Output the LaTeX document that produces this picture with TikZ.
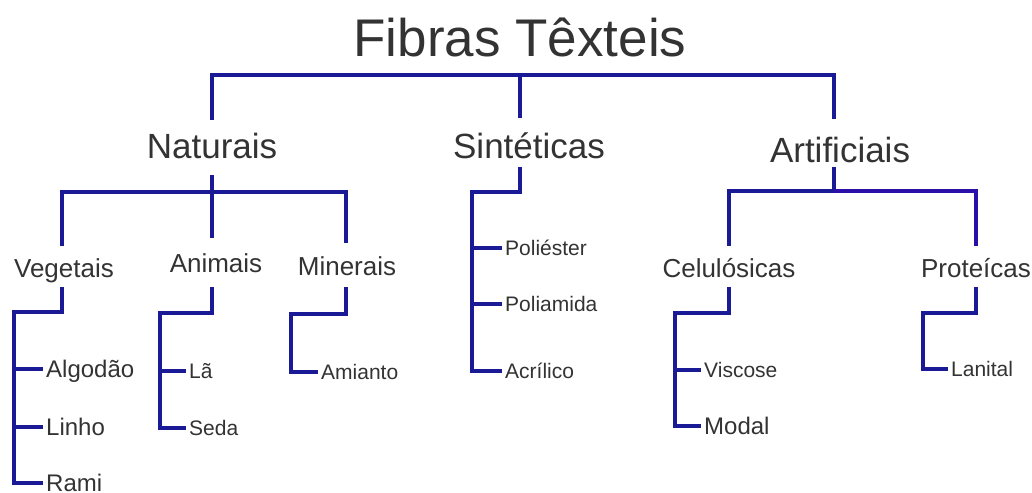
\documentclass[tikz,border=0pt]{standalone}
\usepackage{fontspec}
\setmainfont{Liberation Sans}
\usetikzlibrary{calc}
\definecolor{fiberblue}{RGB}{26,26,150}
\definecolor{fiberviolet}{RGB}{44,14,168}
\definecolor{labelgray}{HTML}{333333}

\begin{document}
\begin{tikzpicture}[x=1pt, y=-1pt,
  link/.style={fiberblue, line width=4pt},
  grp/.style={labelgray, anchor=base, inner sep=0pt, font=\fontsize{35}{35}\selectfont},
  sub/.style={labelgray, anchor=base, inner sep=0pt, font=\fontsize{26}{26}\selectfont},
  leaf/.style={labelgray, anchor=west, inner xsep=3pt, inner ysep=0pt, text height=15pt, text depth=0pt, font=\fontsize{21}{21}\selectfont},
  bigleaf/.style={leaf, text height=17pt, font=\fontsize{24}{24}\selectfont}]
  \useasboundingbox (0,0) rectangle (1032,492);
  \fill[white] (0,0) rectangle (1032,492);

  \node[labelgray, anchor=base, font=\fontsize{53}{53}\selectfont] (title) at (520,57) {Fibras Têxteis};

  % Main groups
  \node[grp, text height=38pt, text depth=17pt] (nat) at (212,158) {Naturais};
  \node[grp, text height=40pt, text depth=9pt] (sin) at (529,158) {Sintéticas};
  \node[grp, text height=43pt, text depth=5pt] (art) at (840,162) {Artificiais};

  % Sub groups
  \node[sub, text height=31pt, text depth=10pt] (veg) at (64,277) {Vegetais};
  \node[sub, text height=34pt, text depth=15pt] (ani) at (216,272) {Animais};
  \node[sub, text height=32pt, text depth=12pt] (min) at (347,275) {Minerais};
  \node[sub, text height=31pt, text depth=10pt] (cel) at (729,277) {Celulósicas};
  \node[sub, text height=31pt, text depth=10pt] (pro) at (976,277) {Proteícas};

  % Fibres
  \node[bigleaf] (alg) at (43,369) {Algodão};
  \node[bigleaf] (lin) at (43,427) {Linho};
  \node[bigleaf] (ram) at (43,483) {Rami};
  \node[leaf] (la) at (186,371) {Lã};
  \node[leaf] (sed) at (186,428) {Seda};
  \node[leaf] (ami) at (318,372) {Amianto};
  \node[leaf] (pol) at (502,248) {Poliéster};
  \node[leaf] (pam) at (502,304) {Poliamida};
  \node[leaf] (acr) at (502,371) {Acrílico};
  \node[leaf] (vis) at (701,370) {Viscose};
  \node[bigleaf] (mod) at (701,426) {Modal};
  \node[leaf] (lan) at (948,369) {Lanital};

  % Bus and spine points
  \coordinate (topBus) at (520,75);
  \coordinate (natBus) at (212,192);
  \coordinate (artBus) at (834,191);
  \coordinate (vegSpine) at (14,312);
  \coordinate (aniSpine) at (160,313);
  \coordinate (minSpine) at (291,314);
  \coordinate (sinSpine) at (472,192);
  \coordinate (celSpine) at (675,313);
  \coordinate (proSpine) at (923,313);

  % Top level
  \draw[link] (nat.north) |- (topBus) -| (artBus |- art.north);
  \draw[link] (topBus) -- (topBus |- sin.north);

  % Naturais
  \draw[link] (veg.north -| 62,0) |- (natBus) -| (min.north -| 346,0);
  \draw[link] (nat.south) -- (nat.south |- ani.north);
  \draw[link] (veg.south -| 62,0) |- (vegSpine) |- (ram.west);
  \draw[link] (alg.west -| vegSpine) -- (alg.west);
  \draw[link] (lin.west -| vegSpine) -- (lin.west);
  \draw[link] (ani.south -| natBus) |- (aniSpine) |- (sed.west);
  \draw[link] (la.west -| aniSpine) -- (la.west);
  \draw[link] (min.south -| 346,0) |- (minSpine) |- (ami.west);

  % Sinteticas
  \draw[link] (sin.south -| topBus) |- (sinSpine) |- (acr.west);
  \draw[link] (pol.west -| sinSpine) -- (pol.west);
  \draw[link] (pam.west -| sinSpine) -- (pam.west);

  % Artificiais
  \draw[link] (art.south -| artBus) -- (artBus);
  \draw[link] (cel.north) |- (artBus);
  \draw[link, fiberviolet] (artBus) -| (pro.north);
  \draw[link] (cel.south) |- (celSpine) |- (mod.west);
  \draw[link] (vis.west -| celSpine) -- (vis.west);
  \draw[link] (pro.south) |- (proSpine) |- (lan.west);
\end{tikzpicture}
\end{document}
